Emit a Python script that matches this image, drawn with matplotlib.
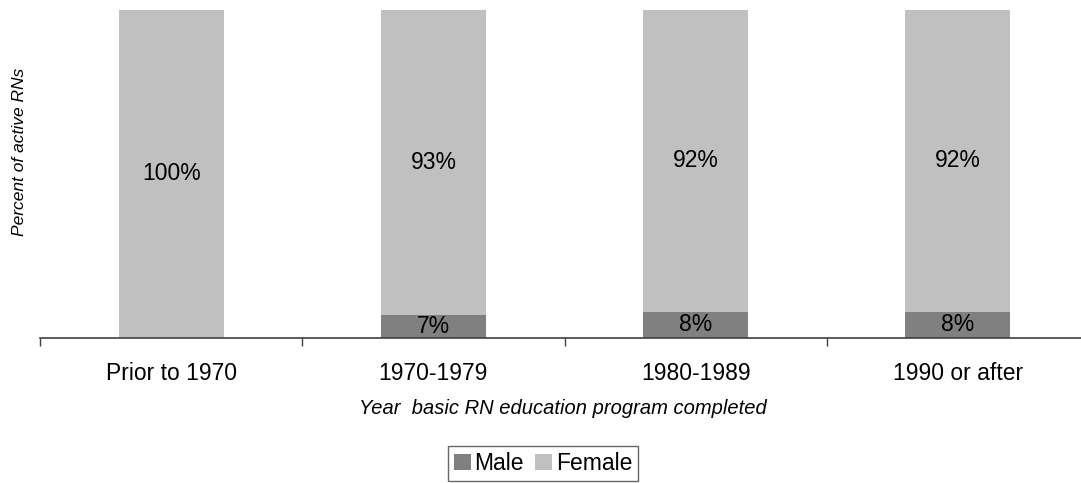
import matplotlib
matplotlib.use("Agg")
import matplotlib.pyplot as plt
import numpy as np

# data
categories = ['Prior to 1970', '1970-1979', '1980-1989', '1990 or after']
male = [0, 7, 8, 8]
female = [100, 93, 92, 92]

plt.rcParams['font.family'] = ['Liberation Sans', 'DejaVu Sans']

fig = plt.figure(figsize=(10.81, 4.83), dpi=100)
ax = fig.add_axes([40 / 1081, 1 - 338 / 483, 1049 / 1081, 328 / 483])

x = np.arange(len(categories))
b_male = ax.bar(x, male, width=0.4, color='#808080', label='Male')
b_fem = ax.bar(x, female, width=0.4, bottom=male, color='#c0c0c0', label='Female')

# labels inside segments
for i in range(len(categories)):
    if male[i] > 0:
        ax.text(x[i], male[i] / 2, '%d%%' % male[i], ha='center', va='center', fontsize=16.5)
    ax.text(x[i], male[i] + female[i] / 2, '%d%%' % female[i], ha='center', va='center', fontsize=16.5)

ax.set_xlim(-0.5, 3.5)
ax.set_ylim(0, 100)
ax.set_yticks([])
for s in ['top', 'right', 'left']:
    ax.spines[s].set_visible(False)
ax.spines['bottom'].set_color('#404040')
ax.spines['bottom'].set_linewidth(1.2)

ax.set_xticks(x)
ax.set_xticklabels(categories, fontsize=16.5)
ax.tick_params(axis='x', which='major', length=0, pad=17)
ax.set_xticks(np.arange(-0.5, 4.0, 1.0), minor=True)
ax.tick_params(axis='x', which='minor', length=6, width=1, color='#404040', direction='out')

fig.text(563 / 1081, 1 - 408 / 483, 'Year  basic RN education program completed',
         ha='center', va='center', fontsize=14.5, style='italic')
fig.text(20 / 1081, 1 - 152 / 483, 'Percent of active RNs',
         ha='center', va='center', fontsize=12.5, style='italic', rotation=90)

leg = fig.legend(handles=[b_male, b_fem], loc='center', bbox_to_anchor=(543 / 1081, 1 - 463.5 / 483),
                 ncol=2, fontsize=16.5, frameon=True, fancybox=False, handlelength=0.75,
                 handleheight=0.75, handletextpad=0.15, columnspacing=0.5, borderpad=0.25,
                 borderaxespad=0)
leg.get_frame().set_edgecolor('#404040')
leg.get_frame().set_linewidth(1)

fig.savefig('out.png', dpi=100)
